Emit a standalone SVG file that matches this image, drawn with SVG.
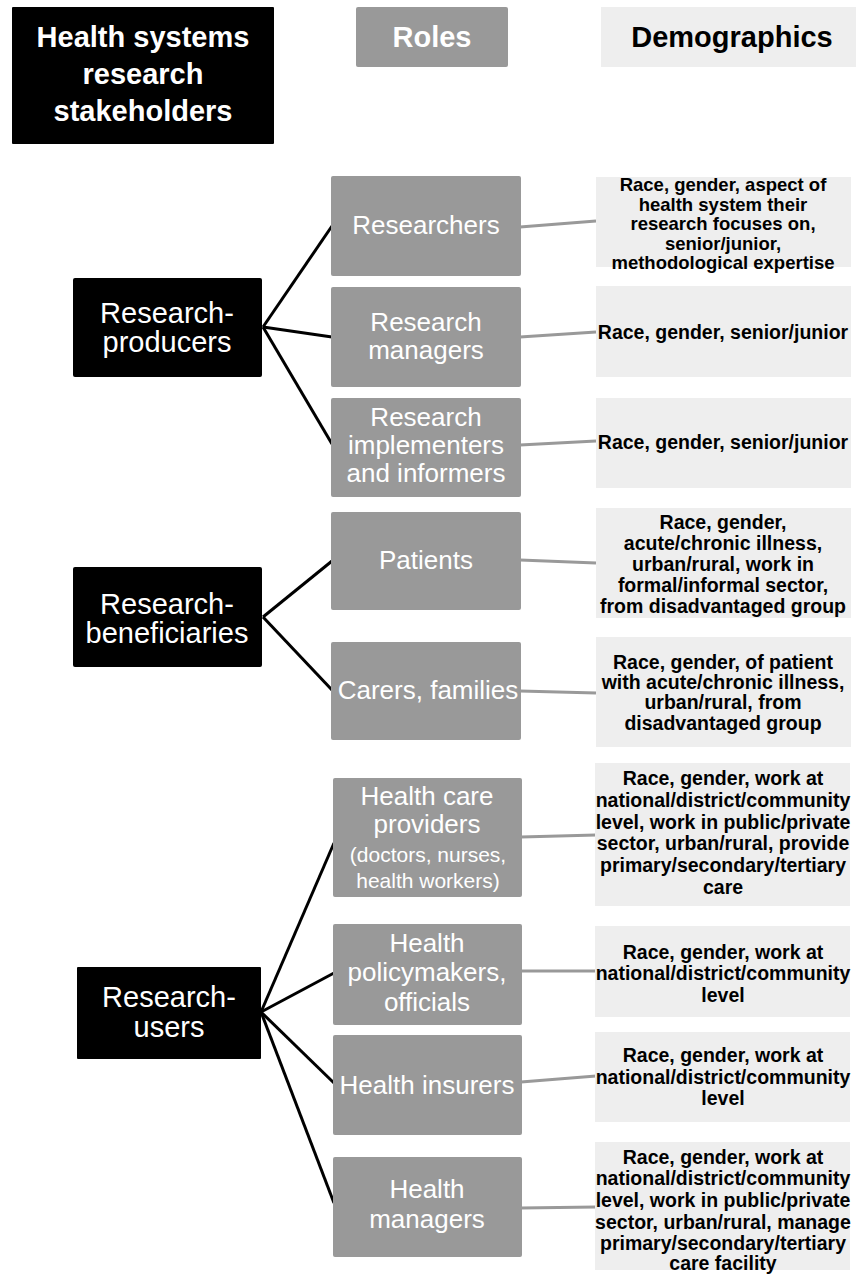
<svg xmlns="http://www.w3.org/2000/svg" width="856" height="1275" viewBox="0 0 856 1275">
<style>
.grp{fill:#000000}
.role{fill:#999999}
.demo{fill:#eeeeee}
.hdr{font-family:"Liberation Sans",Arial,sans-serif;font-weight:bold;font-size:29px;text-anchor:middle}
.gt{font-family:"Liberation Sans",Arial,sans-serif;font-size:29px;fill:#ffffff;text-anchor:middle}
.rt{font-family:"Liberation Sans",Arial,sans-serif;font-size:26px;fill:#ffffff;text-anchor:middle}
.rs{font-size:21px}
.dt{font-family:"Liberation Sans",Arial,sans-serif;font-weight:bold;font-size:19.5px;fill:#000000;text-anchor:middle}
.dts{font-size:18.5px}
.blk{stroke:#000000;stroke-width:3;fill:none}
.gry{stroke:#999999;stroke-width:3;fill:none}
</style>
<rect width="856" height="1275" fill="#ffffff"/>

<g id="connectors">
<line class="blk" x1="263" y1="327" x2="332" y2="226"/>
<line class="blk" x1="263" y1="327" x2="332" y2="337"/>
<line class="blk" x1="263" y1="327" x2="332" y2="444"/>
<line class="blk" x1="263" y1="617" x2="332" y2="561"/>
<line class="blk" x1="263" y1="617" x2="332" y2="690"/>
<line class="blk" x1="261" y1="1012" x2="334" y2="843"/>
<line class="blk" x1="261" y1="1012" x2="334" y2="973"/>
<line class="blk" x1="261" y1="1012" x2="334" y2="1083"/>
<line class="blk" x1="261" y1="1012" x2="334" y2="1203"/>
<line class="gry" x1="520" y1="227" x2="596" y2="221"/>
<line class="gry" x1="520" y1="337" x2="596" y2="332"/>
<line class="gry" x1="520" y1="445" x2="596" y2="441"/>
<line class="gry" x1="520" y1="560" x2="596" y2="563"/>
<line class="gry" x1="520" y1="691" x2="596" y2="693"/>
<line class="gry" x1="521" y1="837" x2="596" y2="835"/>
<line class="gry" x1="521" y1="971" x2="596" y2="971"/>
<line class="gry" x1="521" y1="1082" x2="596" y2="1076"/>
<line class="gry" x1="521" y1="1208" x2="596" y2="1207"/>
</g>

<g id="header-stakeholders">
<rect class="grp" x="12" y="7" width="262" height="137" rx="1"/>
<text class="hdr" fill="#ffffff"><tspan x="143" y="47">Health systems</tspan><tspan x="143" y="84">research</tspan><tspan x="143" y="121">stakeholders</tspan></text>
</g>
<g id="header-roles">
<rect class="role" x="356" y="7" width="152" height="60" rx="2"/>
<text class="hdr" fill="#ffffff" x="432" y="47">Roles</text>
</g>
<g id="header-demographics">
<rect class="demo" x="601" y="7" width="255" height="60"/>
<text class="hdr" fill="#000000" x="732" y="47">Demographics</text>
</g>

<g id="research-producers">
<rect class="grp" x="73" y="278" width="189" height="99" rx="2"/>
<text class="gt"><tspan x="167" y="323">Research-</tspan><tspan x="167" y="352">producers</tspan></text>
</g>
<g id="research-beneficiaries">
<rect class="grp" x="73" y="567" width="189" height="100" rx="2"/>
<text class="gt"><tspan x="167" y="614">Research-</tspan><tspan x="167" y="643">beneficiaries</tspan></text>
</g>
<g id="research-users">
<rect class="grp" x="77" y="967" width="184" height="92" rx="1"/>
<text class="gt"><tspan x="169" y="1007">Research-</tspan><tspan x="169" y="1037">users</tspan></text>
</g>

<g id="role-researchers">
<rect class="role" x="331" y="176" width="190" height="100" rx="2"/>
<text class="rt" x="426" y="234">Researchers</text>
</g>
<g id="role-research-managers">
<rect class="role" x="331" y="287" width="190" height="100" rx="2"/>
<text class="rt"><tspan x="426" y="331">Research</tspan><tspan x="426" y="359">managers</tspan></text>
</g>
<g id="role-research-implementers">
<rect class="role" x="331" y="398" width="190" height="99" rx="2"/>
<text class="rt"><tspan x="426" y="426">Research</tspan><tspan x="426" y="454">implementers</tspan><tspan x="426" y="482">and informers</tspan></text>
</g>
<g id="role-patients">
<rect class="role" x="331" y="512" width="190" height="98" rx="2"/>
<text class="rt" x="426" y="569">Patients</text>
</g>
<g id="role-carers">
<rect class="role" x="331" y="642" width="190" height="98" rx="2"/>
<text class="rt" x="428" y="699">Carers, families</text>
</g>
<g id="role-health-care-providers">
<rect class="role" x="333" y="778" width="189" height="119" rx="2"/>
<text class="rt"><tspan x="427" y="805">Health care</tspan><tspan x="427" y="833">providers</tspan><tspan class="rs" x="428" y="862">(doctors, nurses,</tspan><tspan class="rs" x="428" y="888">health workers)</tspan></text>
</g>
<g id="role-health-policymakers">
<rect class="role" x="333" y="924" width="189" height="101" rx="2"/>
<text class="rt"><tspan x="427" y="952">Health</tspan><tspan x="427" y="981">policymakers,</tspan><tspan x="427" y="1011">officials</tspan></text>
</g>
<g id="role-health-insurers">
<rect class="role" x="333" y="1035" width="189" height="100" rx="2"/>
<text class="rt" x="427" y="1094">Health insurers</text>
</g>
<g id="role-health-managers">
<rect class="role" x="333" y="1157" width="189" height="100" rx="2"/>
<text class="rt"><tspan x="427" y="1198">Health</tspan><tspan x="427" y="1228">managers</tspan></text>
</g>

<g id="demo-researchers">
<rect class="demo" x="596" y="177" width="255" height="90"/>
<text class="dt dts"><tspan x="723" y="191">Race, gender, aspect of</tspan><tspan x="723" y="210.5">health system their</tspan><tspan x="723" y="230">research focuses on,</tspan><tspan x="723" y="249.5">senior/junior,</tspan><tspan x="723" y="269">methodological expertise</tspan></text>
</g>
<g id="demo-research-managers">
<rect class="demo" x="596" y="286" width="255" height="91"/>
<text class="dt" x="723" y="339">Race, gender, senior/junior</text>
</g>
<g id="demo-research-implementers">
<rect class="demo" x="596" y="398" width="255" height="90"/>
<text class="dt" x="723" y="449">Race, gender, senior/junior</text>
</g>
<g id="demo-patients">
<rect class="demo" x="596" y="508" width="255" height="110"/>
<text class="dt"><tspan x="723" y="529">Race, gender,</tspan><tspan x="723" y="550">acute/chronic illness,</tspan><tspan x="723" y="571">urban/rural, work in</tspan><tspan x="723" y="592">formal/informal sector,</tspan><tspan x="723" y="613">from disadvantaged group</tspan></text>
</g>
<g id="demo-carers">
<rect class="demo" x="596" y="637" width="255" height="110"/>
<text class="dt"><tspan x="723" y="669">Race, gender, of patient</tspan><tspan x="723" y="689">with acute/chronic illness,</tspan><tspan x="723" y="709">urban/rural, from</tspan><tspan x="723" y="730">disadvantaged group</tspan></text>
</g>
<g id="demo-health-care-providers">
<rect class="demo" x="595" y="763" width="255" height="143"/>
<text class="dt"><tspan x="723" y="785">Race, gender, work at</tspan><tspan x="723" y="807">national/district/community</tspan><tspan x="723" y="829">level, work in public/private</tspan><tspan x="723" y="850">sector, urban/rural, provide</tspan><tspan x="723" y="872">primary/secondary/tertiary</tspan><tspan x="723" y="894">care</tspan></text>
</g>
<g id="demo-health-policymakers">
<rect class="demo" x="595" y="926" width="255" height="91"/>
<text class="dt"><tspan x="723" y="959">Race, gender, work at</tspan><tspan x="723" y="980">national/district/community</tspan><tspan x="723" y="1002">level</tspan></text>
</g>
<g id="demo-health-insurers">
<rect class="demo" x="595" y="1032" width="255" height="90"/>
<text class="dt"><tspan x="723" y="1062">Race, gender, work at</tspan><tspan x="723" y="1084">national/district/community</tspan><tspan x="723" y="1105">level</tspan></text>
</g>
<g id="demo-health-managers">
<rect class="demo" x="595" y="1142" width="255" height="128"/>
<text class="dt"><tspan x="723" y="1164">Race, gender, work at</tspan><tspan x="723" y="1185">national/district/community</tspan><tspan x="723" y="1207">level, work in public/private</tspan><tspan x="723" y="1229">sector, urban/rural, manage</tspan><tspan x="723" y="1250">primary/secondary/tertiary</tspan><tspan x="723" y="1270">care facility</tspan></text>
</g>
</svg>
